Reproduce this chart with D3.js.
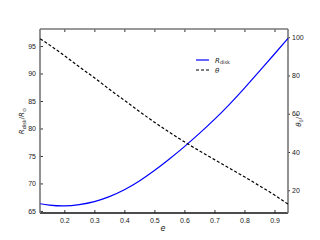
<!DOCTYPE html>
<html>
<head>
<meta charset="utf-8">
<script src="https://cdn.jsdelivr.net/npm/d3@7"></script>
<style>
  body { margin: 0; background: #fff; }
  svg { font-family: "DejaVu Sans", sans-serif; }
</style>
</head>
<body>
<div id="mainContainer"></div>
<script>
// eccentricity grid
var eVals = [0.12, 0.15, 0.2, 0.25, 0.3, 0.35, 0.4, 0.45, 0.5, 0.55, 0.6, 0.65, 0.7, 0.75, 0.8, 0.85, 0.9, 0.945];
// disk radius in solar radii
var rDisk = [66.3, 66.05, 65.9, 66.15, 66.7, 67.6, 68.85, 70.45, 72.35, 74.45, 76.7, 79.1, 81.65, 84.4, 87.35, 90.45, 93.55, 96.4];
// theta_0 in degrees
var theta = [99.2, 96.0, 90.4, 84.5, 78.8, 72.8, 67.0, 61.2, 55.6, 50.3, 45.3, 40.6, 36.0, 31.5, 27.0, 22.3, 17.5, 12.7];

var xTicks = [0.2, 0.3, 0.4, 0.5, 0.6, 0.7, 0.8, 0.9];
var yLeftTicks = [65, 70, 75, 80, 85, 90, 95];
var yRightTicks = [20, 40, 60, 80, 100];

var margin = { top: 29, right: 32, bottom: 27, left: 40 },
    width = 320 - margin.left - margin.right,
    height = 240 - margin.top - margin.bottom;

var svg = d3.select('#mainContainer').append('svg')
    .attr('width', 320)
    .attr('height', 240);

var g = svg.append('g')
    .attr('transform', 'translate(' + margin.left + ',' + margin.top + ')');

var xscale = d3.scaleLinear().domain([0.119, 0.945]).range([0, width]);
var yleft = d3.scaleLinear().domain([64.62, 98.1]).range([height, 0]);
var yright = d3.scaleLinear().domain([8.1, 104.3]).range([height, 0]);

function styleAxis(sel) {
    sel.selectAll('text').attr('font-size', '7px').attr('fill', '#222');
    sel.selectAll('line').attr('stroke', '#333');
    sel.select('.domain').remove();
}

// bottom
g.append('g')
    .attr('transform', 'translate(0,' + height + ')')
    .call(d3.axisBottom(xscale).tickValues(xTicks).tickSizeInner(-3).tickSizeOuter(0).tickPadding(5).tickFormat(d3.format('.1f')))
    .call(styleAxis);
// top ticks
g.append('g')
    .call(d3.axisTop(xscale).tickValues(xTicks).tickSizeInner(-3).tickSizeOuter(0).tickFormat(''))
    .call(styleAxis);
// left
g.append('g')
    .call(d3.axisLeft(yleft).tickValues(yLeftTicks).tickSizeInner(-3).tickSizeOuter(0).tickPadding(4))
    .call(styleAxis);
// right
g.append('g')
    .attr('transform', 'translate(' + width + ',0)')
    .call(d3.axisRight(yright).tickValues(yRightTicks).tickSizeInner(2).tickSizeOuter(0).tickPadding(2))
    .call(styleAxis);

// frame
g.append('line').attr('x1', 0).attr('x2', width).attr('y1', height).attr('y2', height)
    .attr('stroke', '#111').attr('stroke-width', 1.3);
g.append('line').attr('x1', 0).attr('x2', width).attr('y1', 0).attr('y2', 0)
    .attr('stroke', '#777').attr('stroke-width', 1.3);
g.append('line').attr('x1', 0).attr('x2', 0).attr('y1', 0).attr('y2', height)
    .attr('stroke', '#777').attr('stroke-width', 1.6);
g.append('line').attr('x1', width).attr('x2', width).attr('y1', 0).attr('y2', height)
    .attr('stroke', '#777').attr('stroke-width', 1.6);

var lineR = d3.line()
    .x(function (d, i) { return xscale(eVals[i]); })
    .y(function (d) { return yleft(d); })
    .curve(d3.curveNatural);
var lineT = d3.line()
    .x(function (d, i) { return xscale(eVals[i]); })
    .y(function (d) { return yright(d); })
    .curve(d3.curveMonotoneX);

g.append('path').datum(rDisk)
    .attr('d', lineR)
    .attr('fill', 'none')
    .attr('stroke', '#0000ff')
    .attr('stroke-width', 1.2);

g.append('path').datum(theta)
    .attr('d', lineT)
    .attr('fill', 'none')
    .attr('stroke', '#000')
    .attr('stroke-width', 1.2)
    .attr('stroke-dasharray', '3,2');

// legend
var leg = svg.append('g');
leg.append('line').attr('x1', 196).attr('x2', 209).attr('y1', 60).attr('y2', 60)
    .attr('stroke', '#0000ff').attr('stroke-width', 1.2);
leg.append('line').attr('x1', 196).attr('x2', 209).attr('y1', 70).attr('y2', 70)
    .attr('stroke', '#000').attr('stroke-width', 1.2).attr('stroke-dasharray', '3,2');
var t1 = leg.append('text').attr('x', 215).attr('y', 62.5).attr('font-size', '7px').attr('fill', '#222');
t1.append('tspan').attr('font-style', 'italic').text('R');
t1.append('tspan').attr('font-size', '5px').attr('dy', 1.5).text('disk');
leg.append('text').attr('x', 215).attr('y', 72.5).attr('font-size', '7px').attr('font-style', 'italic').attr('fill', '#222').text('θ');

// axis labels
svg.append('text')
    .attr('x', 163).attr('y', 231)
    .attr('text-anchor', 'middle')
    .attr('font-size', '8px')
    .attr('font-style', 'italic')
    .attr('fill', '#222')
    .text('e');

var ly = svg.append('text')
    .attr('transform', 'translate(24,121) rotate(-90)')
    .attr('text-anchor', 'middle')
    .attr('font-size', '7px')
    .attr('fill', '#222');
ly.append('tspan').attr('font-style', 'italic').text('R');
ly.append('tspan').attr('font-size', '5px').attr('dy', 1.5).text('disk');
ly.append('tspan').attr('dy', -1.5).text('/');
ly.append('tspan').attr('font-style', 'italic').text('R');
ly.append('tspan').attr('font-size', '5px').attr('dy', 1.5).text('⊙');

var ry = svg.append('text')
    .attr('transform', 'translate(301,120) rotate(-90)')
    .attr('text-anchor', 'middle')
    .attr('font-size', '7px')
    .attr('fill', '#222');
ry.append('tspan').attr('font-style', 'italic').text('θ');
ry.append('tspan').attr('font-size', '5px').attr('dy', 1.5).text('0');
ry.append('tspan').attr('dy', -1.5).text('/°');
</script>
</body>
</html>
